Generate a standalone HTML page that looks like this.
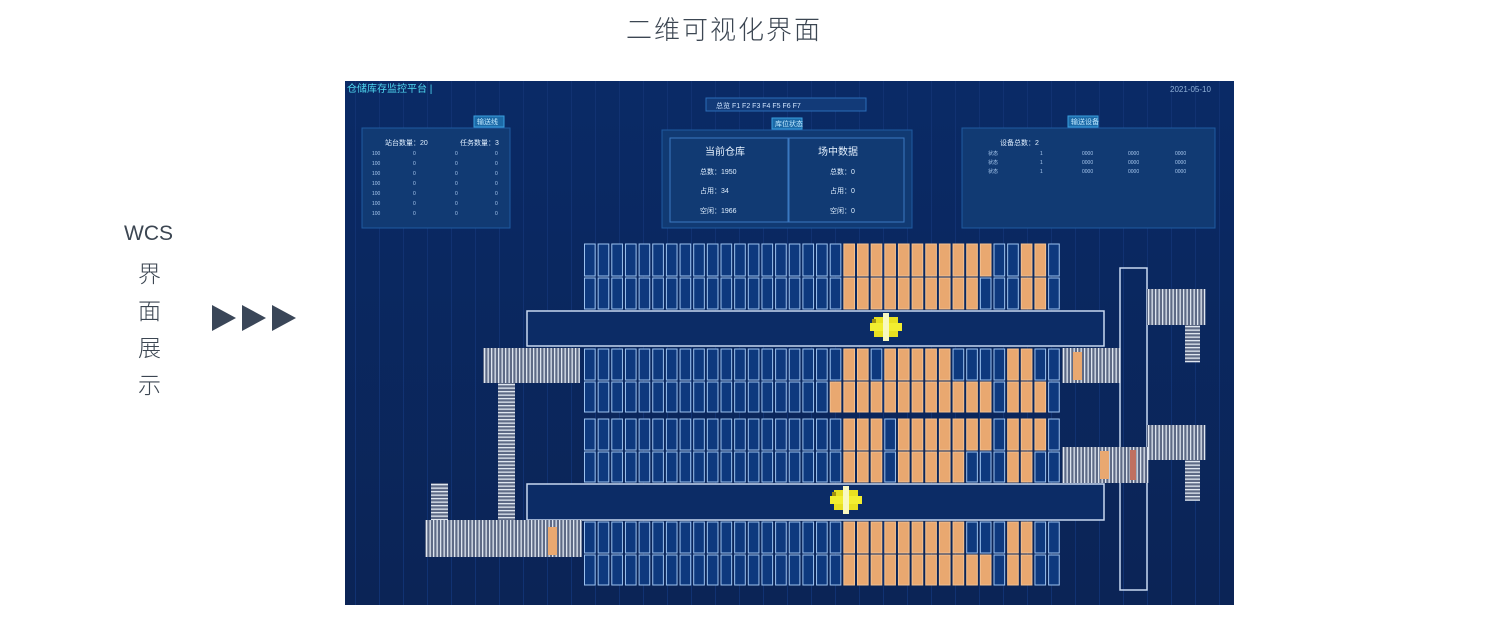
<!DOCTYPE html>
<html><head><meta charset="utf-8">
<style>
html,body{margin:0;padding:0;background:#fff;width:1501px;height:627px;overflow:hidden;position:relative;font-family:"Liberation Sans","Noto Sans CJK SC",sans-serif}
.t{position:absolute;color:#3c4652;font-weight:300}
</style></head><body>
<div class="t" style="left:626px;top:10px;font-size:26px;letter-spacing:2px">二维可视化界面</div>
<div class="t" style="left:124px;top:222px;font-size:21px">WCS</div>
<div class="t" style="left:138px;top:256px;font-size:23px;line-height:37px;width:26px">界<br>面<br>展<br>示</div>
<svg style="position:absolute;left:210px;top:303px" width="90" height="30"><g fill="#3a4658"><polygon points="2,2 26,15 2,28"/><polygon points="32,2 56,15 32,28"/><polygon points="62,2 86,15 62,28"/></g></svg>
<svg id="s" style="position:absolute;left:0;top:0" width="1501" height="627"></svg>
<script>
var s='';
function r(x,y,w,h,f,st,sw){s+='<rect x="'+x+'" y="'+y+'" width="'+w+'" height="'+h+'" fill="'+(f||'none')+'"'+(st?' stroke="'+st+'" stroke-width="'+(sw||1)+'"':'')+'/>';}
function t(x,y,sz,c,txt){s+='<text x="'+x+'" y="'+y+'" font-size="'+sz+'" fill="'+c+'" font-family="Liberation Sans,Noto Sans CJK SC,sans-serif">'+txt+'</text>';}
s+='<defs><linearGradient id="g" x1="0" y1="0" x2="0" y2="1"><stop offset="0" stop-color="#0a2a66"/><stop offset="1" stop-color="#0b2456"/></linearGradient></defs>';
r(345,81,889,524,'url(#g)');
for(var x=355;x<1234;x+=24)r(x,81,1,524,'#113272');
t(347,92,10,'#4fd8f0','仓储库存监控平台 |');
t(1170,92,8,'#8fb0d8','2021-05-10');
r(706,98,160,13,'#123a78','#2b6cb8');
t(716,108,7,'#cfe4ff','总览 F1 F2 F3 F4 F5 F6 F7');
function panel(x,y,w,h,tx,title){r(x,y,w,h,'#113a73');r(x,y,w,h,'none','#1e5aa0');r(tx,y-12,30,11,'#1c6aa8','#3aa0e0');t(tx+3,y-4,7,'#bfe8ff',title);}
panel(362,128,148,100,474,'输送线');
panel(662,130,250,98,772,'库位状态');
panel(962,128,253,100,1068,'输送设备');
t(385,145,7,'#dfefff','站台数量：20');t(460,145,7,'#dfefff','任务数量：3');
for(var i=0;i<7;i++){var yy=155+i*10;t(372,yy,5,'#a8c8ee','100');t(413,yy,5,'#a8c8ee','0');t(455,yy,5,'#a8c8ee','0');t(495,yy,5,'#a8c8ee','0');}
r(670,138,118,84,'none','#3a78c0');r(789,138,115,84,'none','#3a78c0');
t(705,155,10,'#e6f2ff','当前仓库');t(818,155,10,'#e6f2ff','场中数据');
t(700,174,7,'#dfefff','总数：1950');t(700,193,7,'#dfefff','占用：34');t(700,213,7,'#dfefff','空闲：1966');
t(830,174,7,'#dfefff','总数：0');t(830,193,7,'#dfefff','占用：0');t(830,213,7,'#dfefff','空闲：0');
t(1000,145,7,'#dfefff','设备总数：2');
for(var i=0;i<3;i++){var yy=155+i*9;t(988,yy,5,'#a8c8ee','状态');t(1040,yy,5,'#a8c8ee','1');t(1082,yy,5,'#a8c8ee','0000');t(1128,yy,5,'#a8c8ee','0000');t(1175,yy,5,'#a8c8ee','0000');}
var X0=583,CW=13.65,N=35;
function row(y,h,or){for(var i=0;i<N;i++){var x=X0+i*CW;var o=or.indexOf(i)>=0;r(x+1.5,y+1,CW-3,h-2,o?'#e9a870':'#0e397e',o?'#f2c090':'#9cc2f0',1);}}
function rg(a,b){var o=[];for(var i=a;i<=b;i++)o.push(i);return o;}
row(243,34,rg(19,29).concat([32,33]));
row(277,33,rg(19,28).concat([32,33]));
row(348,33,[19,20].concat(rg(22,26),[31,32]));
row(381,32,rg(18,29).concat([31,32,33]));
row(418,33,rg(19,21).concat(rg(23,29),[31,32,33]));
row(451,32,rg(19,21).concat(rg(23,27),[31,32]));
row(521,33,rg(19,27).concat([31,32]));
row(554,32,rg(19,29).concat([31,32]));
r(527,311,577,35,'#0c2c66','#c8d8f0',1.5);
r(527,484,577,36,'#0c2c66','#c8d8f0',1.5);
function conv(x,y,w,h,v){r(x,y,w,h,'#5e6a86');var st=3.5;if(!v){for(var i=x+1;i<x+w;i+=st)r(i,y,1.3,h,'#dfe6f0');}else{for(var j=y+1;j<y+h;j+=st)r(x,j,w,1.3,'#dfe6f0');}}
conv(483,348,97,35,0);conv(498,383,17,137,1);conv(431,483,17,37,1);conv(425,520,157,37,0);
r(548,527,9,28,'#e9a870');
r(1120,268,27,322,'none','#c8d8f0',1.5);
conv(1147,289,58,36,0);conv(1185,325,15,37,1);
conv(1062,348,58,35,0);r(1073,352,9,28,'#e9a870');
conv(1147,425,58,35,0);conv(1185,460,15,40,1);
conv(1062,447,86,36,0);r(1100,451,9,28,'#e9a870');r(1130,450,6,30,'#c07060');
function veh(x,y){r(x-12,y-10,24,20,'#e8e020');r(x-16,y-4,32,8,'#f2ee30');r(x-3,y-14,6,28,'#f8f8c0');r(x-14,y-8,4,4,'#a09010');}
veh(886,327);veh(846,500);
document.getElementById('s').innerHTML=s;
</script>
</body></html>
